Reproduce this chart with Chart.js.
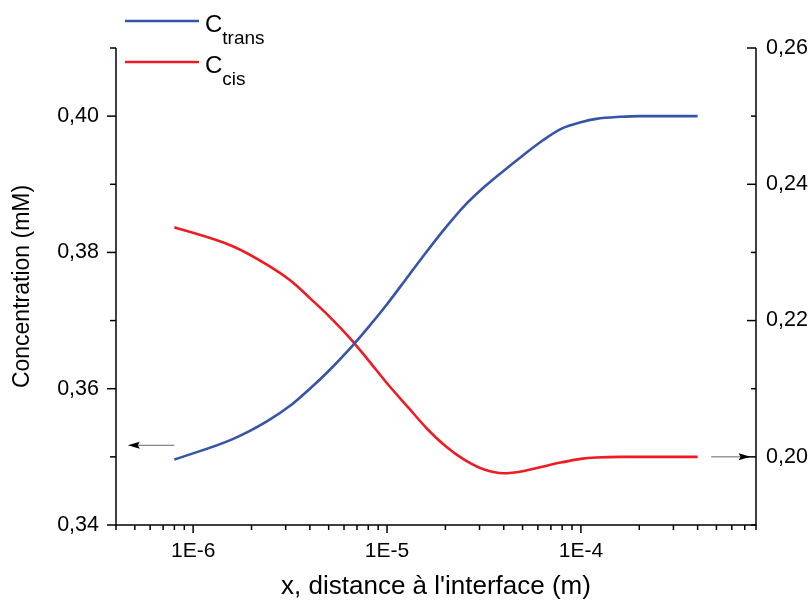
<!DOCTYPE html>
<html><head><meta charset="utf-8">
<script src="https://cdn.jsdelivr.net/npm/chart.js@4/dist/chart.umd.min.js"></script>
<style>html,body{margin:0;padding:0;background:#fff}#wrap{width:811px;height:602px;position:relative}</style>
</head><body><div id="wrap"><canvas id="c" width="811" height="602"></canvas></div>
<script>
// ---- data ----
const xValues = [8e-7, 1.6e-6, 2.4e-6, 3.2e-6, 4e-6, 5e-6, 6.4e-6, 8e-6, 1e-5, 1.3e-5, 1.6e-5, 2e-5, 2.5e-5, 3.2e-5, 4e-5, 5e-5, 6.4e-5, 8e-5, 1e-4, 1.2e-4, 1.6e-4, 2e-4, 3e-4, 4e-4];
const cTrans = [0.3496, 0.3526, 0.3552, 0.3576, 0.3600, 0.3626, 0.3658, 0.3690, 0.3724, 0.3767, 0.3801, 0.3836, 0.3868, 0.3897, 0.3920, 0.3942, 0.3965, 0.3982, 0.3991, 0.3996, 0.3999, 0.4000, 0.4000, 0.4000];
const cCis = [0.2337, 0.2309, 0.2282, 0.2258, 0.2233, 0.2207, 0.2175, 0.2142, 0.2108, 0.2071, 0.2042, 0.2016, 0.1996, 0.1981, 0.1976, 0.1979, 0.1986, 0.1992, 0.1997, 0.1999, 0.2000, 0.2000, 0.2000, 0.2000];
const seriesMain = ['C', 'C'];
const seriesSub = ['trans', 'cis'];
const xMajorTicks = [1e-6, 1e-5, 1e-4];
const xTickLabels = ['1E-6', '1E-5', '1E-4'];
const xMinorTicks = [4e-7,5e-7,6e-7,7e-7,8e-7,9e-7,2e-6,3e-6,4e-6,5e-6,6e-6,7e-6,8e-6,9e-6,2e-5,3e-5,4e-5,5e-5,6e-5,7e-5,8e-5,9e-5,2e-4,3e-4,4e-4,5e-4,6e-4,7e-4,8e-4];
const yLeftTicks = [0.34, 0.36, 0.38, 0.40];
const yLeftLabels = ['0,34', '0,36', '0,38', '0,40'];
const yLeftMinor = [0.35, 0.37, 0.39, 0.41];
const yRightTicks = [0.20, 0.22, 0.24, 0.26];
const yRightLabels = ['0,20', '0,22', '0,24', '0,26'];
const yRightMinor = [0.19, 0.21, 0.23, 0.25];
const arrowLeftX = [8e-7, 4.6e-7];   // from -> to, at left-axis value
const arrowLeftY = 0.3517;
const arrowRightX = [4.7e-4, 7.5e-4]; // from -> to, at right-axis value
const arrowRightY = 0.20;

const FONT = "'Liberation Sans', Arial, sans-serif";
const BLUE = '#3755a6';
const RED = '#ed1c24';

const axesPlugin = {
  id: 'axesPlugin',
  afterDraw(chart) {
    const ctx = chart.ctx;
    const {left, right, top, bottom} = chart.chartArea;
    const xs = chart.scales.x, yl = chart.scales.y, yr = chart.scales.y1;
    const ln = (x1, y1, x2, y2) => { ctx.beginPath(); ctx.moveTo(x1, y1); ctx.lineTo(x2, y2); ctx.stroke(); };
    ctx.save();
    ctx.strokeStyle = '#000';
    ctx.lineWidth = 1.5;
    ln(left, top, left, bottom + 0.75);
    ln(right, top, right, bottom + 0.75);
    ln(left, bottom, right, bottom);
    yLeftTicks.forEach(v => { const p = yl.getPixelForValue(v); ln(left - 9, p, left, p); });
    yLeftMinor.forEach(v => { const p = yl.getPixelForValue(v); ln(left - 6, p, left, p); });
    yRightTicks.forEach(v => { const p = yr.getPixelForValue(v); ln(right - 9, p, right, p); });
    yRightMinor.forEach(v => { const p = yr.getPixelForValue(v); ln(right - 5, p, right, p); });
    xMajorTicks.forEach(v => { const p = xs.getPixelForValue(v); ln(p, bottom, p, bottom + 8); });
    xMinorTicks.forEach(v => { const p = xs.getPixelForValue(v); ln(p, bottom, p, bottom + 5); });

    // arrows
    const arrow = (xa, xb, yPix) => {
      const p1 = xs.getPixelForValue(xa), p2 = xs.getPixelForValue(xb);
      const dir = Math.sign(p2 - p1);
      ctx.strokeStyle = '#666'; ctx.lineWidth = 1;
      ln(p1, yPix, p2 - dir * 10, yPix);
      ctx.fillStyle = '#000';
      ctx.beginPath();
      ctx.moveTo(p2, yPix);
      ctx.lineTo(p2 - dir * 12, yPix - 3.5);
      ctx.lineTo(p2 - dir * 10, yPix);
      ctx.lineTo(p2 - dir * 12, yPix + 3.5);
      ctx.closePath(); ctx.fill();
    };
    arrow(arrowLeftX[0], arrowLeftX[1], yl.getPixelForValue(arrowLeftY));
    arrow(arrowRightX[0], arrowRightX[1], yr.getPixelForValue(arrowRightY));

    // legend
    chart.data.datasets.forEach((ds, i) => {
      const y = 21 + i * 41;
      ctx.strokeStyle = ds.borderColor; ctx.lineWidth = 2.5;
      ln(125, y, 199, y);
      ctx.fillStyle = '#000';
      ctx.textAlign = 'left'; ctx.textBaseline = 'alphabetic';
      ctx.font = '24px ' + FONT;
      ctx.fillText(seriesMain[i], 205, y + 11);
      const w = ctx.measureText(seriesMain[i]).width;
      ctx.font = '19px ' + FONT;
      ctx.fillText(seriesSub[i], 205 + w, y + 23);
    });
    ctx.restore();
  }
};

const mkPts = ys => xValues.map((x, i) => ({x, y: ys[i]}));

new Chart(document.getElementById('c'), {
  type: 'line',
  data: {
    datasets: [
      {label: 'Ctrans', data: mkPts(cTrans), borderColor: BLUE, borderWidth: 2.6, pointRadius: 0, yAxisID: 'y', cubicInterpolationMode: 'monotone', fill: false},
      {label: 'Ccis', data: mkPts(cCis), borderColor: RED, borderWidth: 2.6, pointRadius: 0, yAxisID: 'y1', cubicInterpolationMode: 'monotone', fill: false}
    ]
  },
  options: {
    responsive: false,
    animation: false,
    devicePixelRatio: 1,
    layout: {padding: {top: 48, left: 0, right: 0, bottom: 0}},
    plugins: {legend: {display: false}, tooltip: {enabled: false}},
    scales: {
      x: {
        type: 'logarithmic', position: 'bottom', min: 4e-7, max: 8e-4,
        grid: {display: false, drawTicks: false}, border: {display: false},
        afterBuildTicks: s => { s.ticks = xMajorTicks.map(v => ({value: v})); },
        afterFit: s => { s.height = 77; },
        ticks: {autoSkip: false, maxRotation: 0, padding: 14, color: '#000', font: {family: FONT, size: 21},
          callback: v => { const i = xMajorTicks.findIndex(t => Math.abs(t - v) / t < 1e-6); return i >= 0 ? xTickLabels[i] : ''; }},
        title: {display: true, text: "x, distance à l'interface (m)", color: '#000', font: {family: FONT, size: 26}, padding: {top: 0, bottom: 0}}
      },
      y: {
        position: 'left', min: 0.34, max: 0.41,
        grid: {display: false, drawTicks: false}, border: {display: false},
        afterBuildTicks: s => { s.ticks = yLeftTicks.map(v => ({value: v})); },
        afterFit: s => { s.width = 116; },
        ticks: {padding: 17, color: '#000', font: {family: FONT, size: 21.5},
          callback: v => { const i = yLeftTicks.findIndex(t => Math.abs(t - v) < 1e-9); return i >= 0 ? yLeftLabels[i] : ''; }},
        title: {display: true, text: 'Concentration (mM)', color: '#000', font: {family: FONT, size: 23}, padding: {top: 9, bottom: 0}}
      },
      y1: {
        position: 'right', min: 0.19, max: 0.26,
        grid: {display: false, drawTicks: false}, border: {display: false},
        afterBuildTicks: s => { s.ticks = yRightTicks.map(v => ({value: v})); },
        afterFit: s => { s.width = 55; },
        ticks: {padding: 10, color: '#000', font: {family: FONT, size: 21.5},
          callback: v => { const i = yRightTicks.findIndex(t => Math.abs(t - v) < 1e-9); return i >= 0 ? yRightLabels[i] : ''; }}
      }
    }
  },
  plugins: [axesPlugin]
});
</script>
</body></html>
